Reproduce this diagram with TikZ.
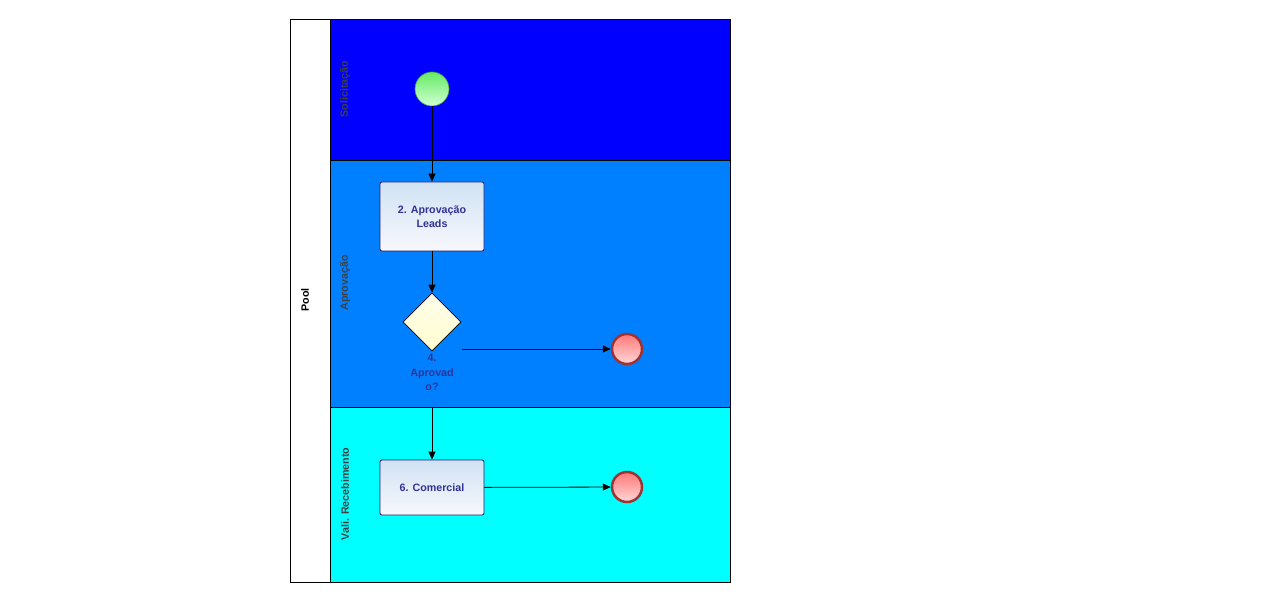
\documentclass[tikz,border=0pt]{standalone}
\usepackage{fontspec}
\setmainfont{Liberation Sans}
\usetikzlibrary{arrows.meta,shapes.geometric}
\definecolor{laneA}{RGB}{0,0,255}
\definecolor{laneB}{RGB}{0,128,255}
\definecolor{laneC}{RGB}{0,255,255}
\definecolor{txtblue}{RGB}{50,50,150}
\definecolor{lanetxt}{RGB}{64,64,64}
\definecolor{taskborder}{RGB}{30,30,110}
\tikzset{
  lanelabel/.style={rotate=90, font=\fontsize{10.7}{12}\selectfont\bfseries, text=lanetxt},
  taskbox/.style={draw=taskborder, line width=0.8pt, rounded corners=2pt, minimum width=104pt, minimum height=#1, top color={rgb,255:red,208;green,226;blue,244}, bottom color={rgb,255:red,248;green,248;blue,252}, align=center, font=\fontsize{10.7}{14}\selectfont\bfseries, text=txtblue, inner sep=0pt},
  startev/.style={circle, draw={rgb,255:red,70;green,160;blue,70}, line width=0.6pt, minimum size=34pt, inner sep=0pt, top color={rgb,255:red,100;green,235;blue,100}, bottom color={rgb,255:red,210;green,255;blue,210}},
  endev/.style={circle, draw={rgb,255:red,160;green,50;blue,50}, line width=2.5pt, minimum size=30pt, inner sep=0pt, top color={rgb,255:red,255;green,120;blue,120}, bottom color={rgb,255:red,255;green,215;blue,215}},
  gateway/.style={diamond, draw=black, line width=0.6pt, minimum size=58pt, inner sep=0pt, aspect=1, top color={rgb,255:red,255;green,252;blue,235}, bottom color={rgb,255:red,255;green,255;blue,205}},
  flow/.style={-{Triangle[length=8pt,width=7pt]}, line width=0.8pt, black},
  gwlabel/.style={align=center, font=\fontsize{10.7}{14.5}\selectfont\bfseries, text=txtblue}
}
\begin{document}
\begin{tikzpicture}[x=1pt,y=-1pt]
\useasboundingbox (0,0) rectangle (1274,609);
\fill[white] (0,0) rectangle (1274,609);
% lanes
\fill[laneA] (330,19) rectangle (730,160);
\fill[laneB] (330,160) rectangle (730,407);
\fill[laneC] (330,407) rectangle (730,582);
\draw[line width=0.8pt] (290,19) rectangle (730,582);
\draw[line width=0.8pt] (330,19) -- (330,582);
\draw[line width=0.8pt] (330,160) -- (730,160);
\draw[line width=0.8pt] (330,407) -- (730,407);
% labels
\node[rotate=90, font=\fontsize{10.7}{12}\selectfont\bfseries, text=black] (pool) at (305,300) {Pool};
\node[lanelabel] (l1) at (345,89) {Solicitação};
\node[lanelabel] (l2) at (345,283) {Aprovação};
\node[lanelabel] (l3) at (345,494) {Vali. Recebimento};
% elements
\node[startev] (start) at (432,89) {};
\node[taskbox=69pt] (t2) at (432,216.5) {2. Aprovação\\Leads};
\node[gateway] (gw) at (432,322) {};
\node[gwlabel, anchor=north] (gwl) at (432,351) {4.\\Aprovad\\o?};
\node[endev] (e1) at (627,349) {};
\node[taskbox=55pt] (t6) at (432,487.5) {6. Comercial};
\node[endev] (e2) at (627,487) {};
\coordinate (gwout) at (462,349);
\coordinate (gwdown) at (432,407);
% flows
\draw[flow] (start) -- (t2);
\draw[flow] (t2) -- (gw);
\draw[flow] (gwout) -- (e1);
\draw[flow] (gwdown) -- (t6);
\draw[flow] (t6) -- (e2);
\end{tikzpicture}
\end{document}
